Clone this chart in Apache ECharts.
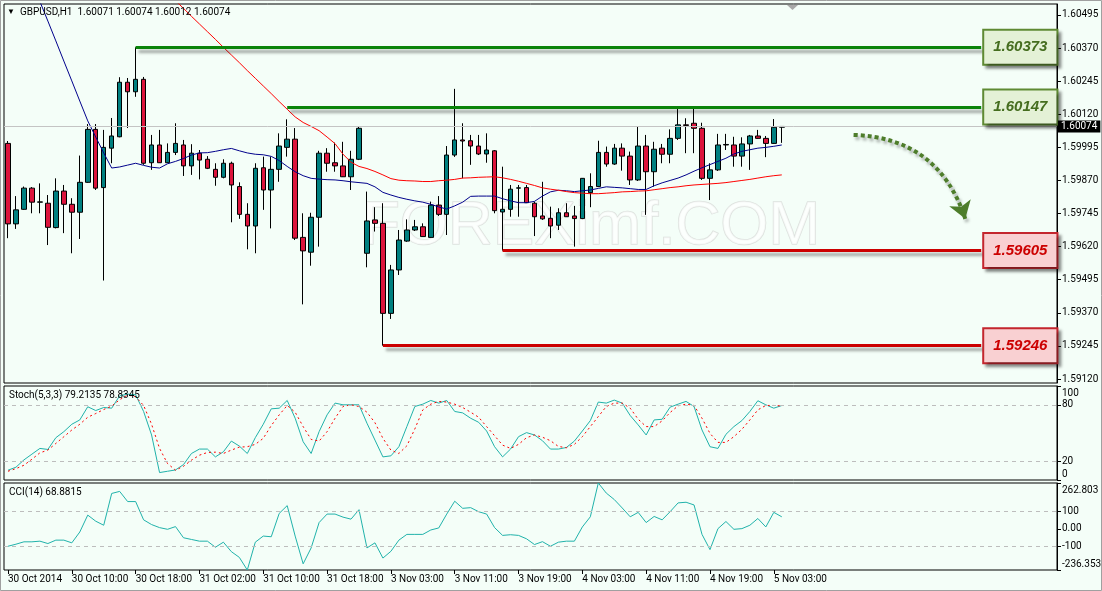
<!DOCTYPE html>
<html>
<head>
<meta charset="utf-8">
<title>GBPUSD,H1</title>
<script src="https://cdn.jsdelivr.net/npm/echarts@6.0.0/dist/echarts.min.js"></script>
<style>
    html, body { margin: 0; padding: 0; background: #f4fef8; }
    #chart { width: 1102px; height: 591px; }
</style>
</head>
<body>
<div id="chart"></div>
<script>
// hourly bars, 30 Oct 02:00 .. 5 Nov 04:00
var opens = [
    1.60010,1.59706,1.59761,1.59841,1.59788,1.59784,1.59692,1.59830,1.59780,1.59750,
    1.59863,1.60063,1.59843,1.59992,1.60035,1.60241,1.60205,1.60252,1.59937,1.60004,
    1.59937,1.59976,1.60004,1.59925,1.59973,1.59950,1.59912,1.59882,1.59935,1.59847,
    1.59742,1.59698,1.59918,1.59834,1.59912,1.59995,1.60026,1.59655,1.59599,1.59731,
    1.59973,1.59937,1.59925,1.59884,1.59950,1.59595,1.59721,1.59708,1.59368,1.59532,
    1.59641,1.59683,1.59695,1.59655,1.59777,1.59742,1.59966,1.60023,1.60020,1.60000,
    1.59970,1.59982,1.59751,1.59761,1.59841,1.59843,1.59784,1.59736,1.59727,1.59701,
    1.59748,1.59736,1.59726,1.59824,1.59847,1.59976,1.59932,1.59992,1.59962,1.59872,
    1.60000,1.59903,1.59992,1.59969,1.60029,1.60080,1.60086,1.60067,1.59878,1.59910,
    1.60004,1.60004,1.59962,1.60008,1.60038,1.60029,1.60010,1.60071
];
var highs = [
    1.60019,1.59811,1.59847,1.59845,1.59859,1.59815,1.59878,1.59853,1.59803,1.59964,
    1.60083,1.60083,1.60061,1.60106,1.60260,1.60257,1.60373,1.60261,1.60042,1.60061,
    1.60010,1.60086,1.60023,1.60007,1.59985,1.59962,1.59935,1.59950,1.59941,1.59863,
    1.59784,1.59935,1.59960,1.59960,1.60048,1.60101,1.60068,1.59746,1.59748,1.59982,
    1.59992,1.60013,1.60016,1.59982,1.60073,1.59828,1.59769,1.59784,1.59551,1.59683,
    1.59723,1.59721,1.59708,1.59790,1.59811,1.60000,1.60216,1.60086,1.60042,1.60042,
    1.60048,1.59985,1.59922,1.59853,1.59853,1.59853,1.59790,1.59865,1.59771,1.59765,
    1.59784,1.59774,1.59879,1.59897,1.60020,1.59998,1.60008,1.60010,1.59979,1.60073,
    1.60042,1.60016,1.60008,1.60063,1.60146,1.60105,1.60146,1.60088,1.59935,1.60046,
    1.60046,1.60035,1.60033,1.60042,1.60061,1.60038,1.60102,1.60074
];
var lows = [
    1.59652,1.59687,1.59759,1.59746,1.59746,1.59626,1.59689,1.59671,1.59595,1.59649,
    1.59861,1.59834,1.59492,1.59935,1.60033,1.60068,1.60186,1.59929,1.59910,1.59936,
    1.59936,1.59966,1.59887,1.59891,1.59874,1.59913,1.59850,1.59878,1.59712,1.59725,
    1.59610,1.59595,1.59759,1.59689,1.59865,1.59960,1.59645,1.59402,1.59548,1.59620,
    1.59903,1.59903,1.59883,1.59834,1.59947,1.59542,1.59677,1.59246,1.59347,1.59513,
    1.59638,1.59679,1.59657,1.59653,1.59736,1.59664,1.59959,1.59878,1.59929,1.59966,
    1.59937,1.59746,1.59605,1.59733,1.59733,1.59785,1.59660,1.59721,1.59652,1.59683,
    1.59732,1.59620,1.59724,1.59769,1.59845,1.59922,1.59929,1.59907,1.59853,1.59868,
    1.59740,1.59847,1.59935,1.59935,1.60023,1.59973,1.59973,1.59872,1.59796,1.59906,
    1.59985,1.59922,1.59922,1.59910,1.60027,1.59958,1.60008,1.60012
];
var closes = [
    1.59706,1.59759,1.59841,1.59788,1.59789,1.59693,1.59830,1.59780,1.59750,1.59863,
    1.60063,1.59841,1.59995,1.60038,1.60241,1.60205,1.60252,1.59935,1.60004,1.59937,
    1.59976,1.60010,1.59925,1.59973,1.59947,1.59916,1.59882,1.59935,1.59853,1.59742,
    1.59698,1.59916,1.59834,1.59912,1.60000,1.60026,1.59652,1.59604,1.59731,1.59973,
    1.59935,1.59925,1.59884,1.59950,1.60067,1.59717,1.59708,1.59368,1.59532,1.59645,
    1.59683,1.59695,1.59658,1.59777,1.59742,1.59966,1.60023,1.60019,1.60000,1.59970,
    1.59985,1.59756,1.59761,1.59837,1.59842,1.59786,1.59733,1.59725,1.59698,1.59748,
    1.59733,1.59726,1.59878,1.59847,1.59976,1.59932,1.59992,1.59962,1.59872,1.60000,
    1.59903,1.59988,1.59969,1.60029,1.60080,1.60078,1.60067,1.59878,1.59910,1.60004,
    1.60006,1.59962,1.60008,1.60038,1.60029,1.60010,1.60071,1.60074
];

// moving averages (null = not on screen yet)
var maFast = [
    null,null,null,1.60620,1.60546,1.60472,1.60397,1.60321,1.60246,1.60170,
    1.60095,1.60034,1.59974,1.59917,1.59921,1.59928,1.59935,1.59927,1.59920,1.59917,
    1.59933,1.59942,1.59953,1.59966,1.59974,1.59975,1.59980,1.59986,1.59991,1.59982,
    1.59974,1.59969,1.59967,1.59961,1.59945,1.59923,1.59903,1.59888,1.59878,1.59875,
    1.59873,1.59872,1.59869,1.59865,1.59862,1.59859,1.59846,1.59825,1.59815,1.59806,
    1.59799,1.59793,1.59788,1.59780,1.59770,1.59762,1.59774,1.59788,1.59810,1.59811,
    1.59811,1.59811,1.59801,1.59793,1.59786,1.59786,1.59791,1.59811,1.59827,1.59833,
    1.59831,1.59828,1.59831,1.59834,1.59840,1.59846,1.59844,1.59842,1.59839,1.59836,
    1.59836,1.59850,1.59861,1.59870,1.59879,1.59891,1.59905,1.59918,1.59930,1.59942,
    1.59954,1.59970,1.59980,1.59986,1.59992,1.59995,1.59999,1.60004
];
var maSlow = [
    null,null,null,null,null,null,null,null,null,null,
    null,null,null,null,null,null,null,null,null,null,
    null,1.60549,1.60520,1.60490,1.60461,1.60432,1.60403,1.60373,1.60344,1.60315,
    1.60285,1.60256,1.60227,1.60198,1.60168,1.60139,1.60110,1.60089,1.60074,1.60058,
    1.60034,1.60009,1.59969,1.59939,1.59923,1.59915,1.59904,1.59891,1.59877,1.59871,
    1.59869,1.59868,1.59866,1.59866,1.59869,1.59871,1.59874,1.59879,1.59880,1.59882,
    1.59883,1.59884,1.59880,1.59874,1.59867,1.59859,1.59851,1.59842,1.59837,1.59833,
    1.59828,1.59824,1.59822,1.59820,1.59820,1.59822,1.59824,1.59827,1.59828,1.59830,
    1.59831,1.59835,1.59839,1.59843,1.59846,1.59850,1.59853,1.59855,1.59857,1.59859,
    1.59862,1.59866,1.59870,1.59874,1.59879,1.59884,1.59888,1.59891
];

var stochK = [
    10.4,13.6,21.4,27.5,33.6,32.5,45,51.4,59.3,63.9,
    77.9,73.9,77.1,76.4,89.6,91.4,90.7,72.9,47.9,7.9,
    9.3,10.7,16.4,28.2,32.9,32.9,24.6,30,41.4,36.1,
    28.2,45,59.3,75.7,76.4,84.6,65.7,40.7,28.2,51.4,
    69.3,81.8,80,80,80,60.4,42.5,24.6,25.7,35.4,
    56.8,78.2,80.7,84.6,81.8,84.6,72.9,71.4,65.7,61.4,
    52.1,35.4,24.6,32.9,46.1,50.4,47.9,41.8,32.9,32.9,
    34.6,41.4,52.1,63.2,82.9,81.8,85,81.8,68.6,58.6,
    47.9,63.9,64.6,77.5,80.7,83.6,78.2,53.2,35.4,33.6,
    48.6,56.8,63.2,72.9,84.3,80,76.4,79.2135
];
var stochD = [
    9.3,12.1,15.7,22.1,28.9,31.8,38.9,46,53.2,59.3,
    66.8,70.7,75,78.6,85.4,90.4,88.6,79.3,59.3,33.6,
    17.5,10.4,14.6,21.1,26.4,29.3,29.6,28.2,31.8,35,
    35.4,37.9,44.3,57.9,69.3,79.3,72.1,56.8,43.2,41.4,
    51.4,65.7,78.2,80,78.2,72.1,61,44.3,31.8,28.2,
    36.4,54.3,74.6,80.7,83.6,82.9,80.7,77.1,72.1,66.8,
    56.8,47.1,37.1,33.6,37.9,45,47.9,45.5,41.8,35.7,
    34.3,37.9,46.1,56.8,67.5,78.2,81.8,81.8,76.4,64.6,
    56.8,56.8,62.9,71.8,78.9,80.7,79.3,65.7,49.6,40,
    40,46.1,53.9,63.9,74.6,79.3,79.3,78.8345
];
var cci = [
    -100,-88.3,-74.7,-74.7,-70.9,-84.5,-65,-65,-80.6,-18.4,
    78.6,43.7,20.4,202.9,214.6,156.3,156.3,51.5,24.3,6.8,
    -2.9,12.6,-51.4,-61.1,-70.9,-70.9,-105.8,-76.7,-131.1,-164,
    -236.3537,-76.7,-41.7,-45.6,88.4,133,-41.7,-200.9,-109.7,35.9,
    84.5,84.5,67,55.3,109.7,-109.7,-80.6,-167.9,-129.1,-65,
    -32,-32,-32,-6.8,4.9,84.5,158.2,117.5,121.4,98.1,
    84.5,6.8,-37.8,-34,-37.8,-57.3,-90.3,-73.8,-100,-76.7,
    -70.9,-70.9,10.7,68.9,262.803,204.9,168,119.4,68.9,94.2,
    35.9,70.9,51.5,98.1,148.6,152.4,136.9,-32,-119.4,1,
    41.8,-2.9,1,20.4,59.2,10.7,94.2,68.8815
];

var tickLabels = ['30 Oct 2014', '30 Oct 10:00', '30 Oct 18:00', '31 Oct 02:00', '31 Oct 10:00',
    '31 Oct 18:00', '3 Nov 03:00', '3 Nov 11:00', '3 Nov 19:00', '4 Nov 03:00', '4 Nov 11:00',
    '4 Nov 19:00', '5 Nov 03:00'];
var priceTicks = [1.59120, 1.59245, 1.59370, 1.59495, 1.59620, 1.59745, 1.59870, 1.59995,
    1.60120, 1.60245, 1.60370, 1.60495];
var stochTicks = [0, 20, 80, 100];
var cciTicks = [-236.3537, -100, 0, 100, 262.803];

// drawn levels: [price, first bar]
var resistance = [[1.60373, 16], [1.60147, 35]];
var support = [[1.59605, 62], [1.59246, 47]];
var arrowFrom = [106, 1.60042];
var arrowTo = [120, 1.59725];

var SLOTS = 132; // bars + empty space on the right
var FONT = 'Roboto';

var slots = [];
for (var s = 0; s < SLOTS; s++) slots.push(String(s));

var candles = opens.map(function (o, i) {
    return [o, closes[i], lows[i], highs[i]];
});
var last = opens.length - 1;
var bid = closes[last];

function tickAt(idx) {
    return idx % 8 === 0 && idx / 8 < tickLabels.length;
}

function xAxisFor(gi, labels) {
    return {
        type: 'category', gridIndex: gi, data: slots, boundaryGap: true,
        axisLine: {show: false, onZero: false},
        axisTick: {show: labels, alignWithLabel: true, interval: tickAt, length: 4, lineStyle: {color: '#000'}},
        axisLabel: {
            show: labels, interval: tickAt, align: 'left', margin: 4,
            fontSize: 10, fontFamily: FONT, color: '#000',
            formatter: function (v, idx) { return tickLabels[idx / 8] || ''; }
        },
        splitLine: {show: false}
    };
}

// edge labels of the indicator windows sit inside the window, like the terminal draws them
var edgeRich = {
    dn: {padding: [14, 0, 0, 0], fontSize: 10, fontFamily: FONT, color: '#000'},
    up: {padding: [0, 0, 12, 0], fontSize: 10, fontFamily: FONT, color: '#000'}
};

function yAxisFor(gi, min, max, ticks, fmt) {
    return {
        type: 'value', gridIndex: gi, position: 'right', min: min, max: max,
        axisLine: {show: true, onZero: false, lineStyle: {color: '#000'}},
        axisTick: {show: true, customValues: ticks, length: 4, lineStyle: {color: '#000'}},
        axisLabel: {customValues: ticks, formatter: fmt, margin: 5, fontSize: 10, fontFamily: FONT,
            color: '#000', rich: edgeRich},
        splitLine: {show: false}
    };
}

function levelLine(level, color, fill, border, textColor) {
    return [{
        coord: [level[1], level[0]],
        lineStyle: {color: color, width: 3, type: 'solid',
            shadowColor: 'rgba(0,0,0,0.35)', shadowBlur: 3, shadowOffsetX: 3, shadowOffsetY: 4},
        label: {
            show: true, position: 'end', distance: 3,
            formatter: level[0].toFixed(5),
            fontSize: 15, lineHeight: 17, fontStyle: 'italic', fontWeight: 'bold',
            fontFamily: 'Liberation Sans', color: textColor,
            backgroundColor: fill, borderColor: border, borderWidth: 2, padding: [8, 9],
            shadowColor: 'rgba(0,0,0,0.4)', shadowBlur: 3, shadowOffsetX: 3, shadowOffsetY: 3
        }
    }, {coord: [122, level[0]]}];
}

var levelData = resistance.map(function (l) {
    return levelLine(l, '#0a840a', '#e4f1d6', '#5f8a33', '#456d1f');
}).concat(support.map(function (l) {
    return levelLine(l, '#cc0000', '#f9d0d2', '#c4262e', '#cc0000');
}));

levelData.push({
    yAxis: bid,
    lineStyle: {color: '#c4c4c4', width: 1, type: 'solid'},
    label: {
        show: true, position: 'end', distance: 1, formatter: bid.toFixed(5),
        fontSize: 10, fontFamily: FONT, color: '#fff', backgroundColor: '#000', padding: [1, 3, 1, 3]
    }
});

var header = '{t|\u25BC}  GBPUSD,H1  ' + [opens[last], highs[last], lows[last], closes[last]]
    .map(function (v) { return v.toFixed(5); }).join(' ');

var titleStyle = {fontSize: 10, fontWeight: 'normal', fontFamily: FONT, color: '#000'};

var myChart = echarts.init(document.getElementById('chart'));
var option = {
    animation: false,
    backgroundColor: '#f4fef8',
    title: [
        {text: header, left: 7, top: 7, padding: 0,
            textStyle: Object.assign({rich: {t: {fontSize: 8, color: '#000'}}}, titleStyle)},
        {text: 'Stoch(5,3,3) ' + stochK[last].toFixed(4) + ' ' + stochD[last].toFixed(4),
            left: 9, top: 390, padding: 0, textStyle: titleStyle},
        {text: 'CCI(14) ' + cci[last].toFixed(4), left: 9, top: 487, padding: 0, textStyle: titleStyle}
    ],
    grid: [
        {left: 4, right: 45, top: 4, height: 379, show: true, borderColor: '#000', borderWidth: 1, outerBoundsMode: 'none'},
        {left: 4, right: 45, top: 386, height: 94, show: true, borderColor: '#000', borderWidth: 1, outerBoundsMode: 'none'},
        {left: 4, right: 45, top: 483, height: 87, show: true, borderColor: '#000', borderWidth: 1, outerBoundsMode: 'none'}
    ],
    xAxis: [xAxisFor(0, false), xAxisFor(1, false), xAxisFor(2, true)],
    yAxis: [
        yAxisFor(0, 1.59105, 1.605365, priceTicks, function (v) { return v.toFixed(5); }),
        yAxisFor(1, 0, 100, stochTicks, function (v) {
            if (v === 100) return '{dn|100}';
            if (v === 0) return '{up|0}';
            return String(v);
        }),
        yAxisFor(2, -236.3537, 262.803, cciTicks, function (v) {
            if (v === 262.803) return '{dn|262.803}';
            if (v === -236.3537) return '{up|-236.3537}';
            return v === 0 ? '0.00' : String(v);
        })
    ],
    graphic: [
        {type: 'rect', silent: true, z: 100, shape: {x: 0.5, y: 0.5, width: 1101, height: 590},
            style: {fill: 'none', stroke: '#a0a0a0', lineWidth: 1}},
        {type: 'polygon', silent: true, z: 100, shape: {points: [[787, 5], [798, 5], [792.5, 10]]},
            style: {fill: '#a8a8a8'}},
        {type: 'text', silent: true, z: 0, x: 362, y: 196,
            style: {text: 'FOREXimf.COM', font: '62px "Liberation Sans"', fill: 'rgba(255,255,255,0.7)',
                stroke: '#dde2de', lineWidth: 1.5}}
    ],
    series: [
        {
            type: 'candlestick', xAxisIndex: 0, yAxisIndex: 0, data: candles, barWidth: 5, z: 3,
            itemStyle: {color: '#008080', color0: '#dc143c', borderColor: '#000', borderColor0: '#000', borderWidth: 1}
        },
        {
            type: 'line', xAxisIndex: 0, yAxisIndex: 0, data: maFast, showSymbol: false, z: 4,
            lineStyle: {color: '#00008b', width: 1}, silent: true,
            markLine: {silent: true, symbol: 'none', precision: 5, animation: false, data: levelData}
        },
        {
            type: 'line', xAxisIndex: 0, yAxisIndex: 0, data: maSlow, showSymbol: false, z: 4,
            lineStyle: {color: '#ff0000', width: 1}, silent: true
        },
        {
            // forecast arrow
            type: 'lines', coordinateSystem: 'cartesian2d', xAxisIndex: 0, yAxisIndex: 0, silent: true, z: 5,
            symbol: ['none', 'arrow'], symbolSize: 17,
            lineStyle: {color: '#4e7d2b', width: 4, type: [4, 3], curveness: 0.35, opacity: 1,
                shadowColor: 'rgba(0,0,0,0.3)', shadowBlur: 3, shadowOffsetX: 2, shadowOffsetY: 3},
            data: [{coords: [arrowFrom, arrowTo]}]
        },
        {
            type: 'line', xAxisIndex: 1, yAxisIndex: 1, data: stochK, showSymbol: false,
            lineStyle: {color: '#20b2aa', width: 1}, silent: true,
            markLine: {silent: true, symbol: 'none', label: {show: false},
                lineStyle: {color: '#bdbdbd', type: [4, 4], width: 1},
                data: [{yAxis: 20}, {yAxis: 80}]}
        },
        {
            type: 'line', xAxisIndex: 1, yAxisIndex: 1, data: stochD, showSymbol: false,
            lineStyle: {color: '#ff0000', width: 1, type: [2, 3]}, silent: true
        },
        {
            type: 'line', xAxisIndex: 2, yAxisIndex: 2, data: cci, showSymbol: false,
            lineStyle: {color: '#20b2aa', width: 1}, silent: true,
            markLine: {silent: true, symbol: 'none', label: {show: false},
                lineStyle: {color: '#bdbdbd', type: [4, 4], width: 1},
                data: [{yAxis: 100}, {yAxis: -100}]}
        }
    ]
};
myChart.setOption(option);
</script>
</body>
</html>
